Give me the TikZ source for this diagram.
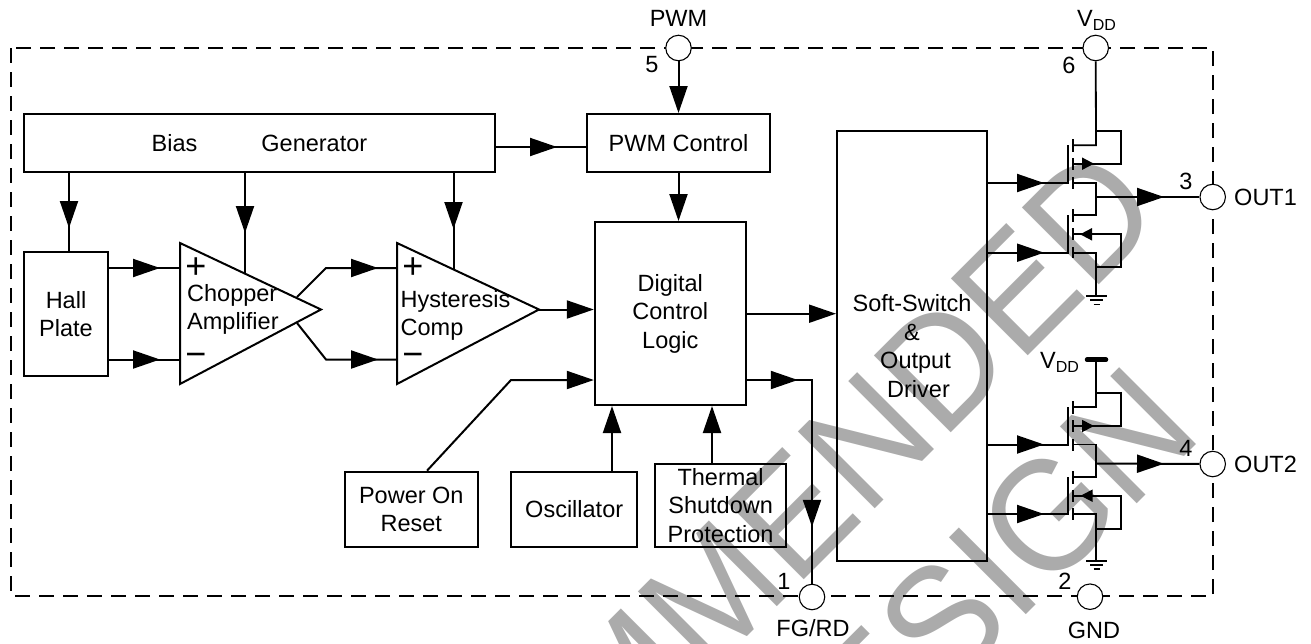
\documentclass[tikz,border=0pt]{standalone}
\usepackage{fontspec}
\setmainfont{Liberation Sans}
\usetikzlibrary{arrows.meta,decorations.markings}
\tikzset{
  tri/.tip={Triangle[length=27pt,width=18pt]},
  smalltri/.tip={Triangle[length=12pt,width=12pt]},
  txt/.style={font=\fontsize{23.5}{28.5}\selectfont,inner sep=0pt,align=center,text=black},
  box/.style={txt,draw=black,line width=2pt},
  wire/.style={draw=black,line width=2pt},
  mosw/.style={draw=black,line width=1.8pt},
  mid/.style={postaction={decoration={markings,mark=at position #1pt with {\arrow{tri}}},decorate}},
  smid/.style={postaction={decoration={markings,mark=at position #1pt with {\arrow{smalltri}}},decorate}},
  pinc/.style={circle,draw=black,fill=white,line width=1.1pt,minimum size=25.5pt,inner sep=0pt},
  sign/.style={font=\fontsize{36}{36}\selectfont,inner sep=0pt},
  wm/.style={font=\fontsize{158}{158}\selectfont,text=wmgray,inner sep=0pt,rotate=45,xscale=.95}
}
\definecolor{wmgray}{HTML}{ABABAB}
\begin{document}
\begin{tikzpicture}[x=1pt,y=-1pt]
\useasboundingbox (0,0) rectangle (1311,643);
\clip (0,0) rectangle (1311,643);
% watermark
\node[wm,anchor=base east] (wma) at (1167,217) {RECOMMENDED};
\node[wm,anchor=base east] (wmb) at (1205,436) {DESIGN};
% package outline
\draw[black,line width=2pt,dash pattern=on 15pt off 9pt] (11,48) rectangle (1213,596);
% blocks
\node[box,minimum width=471pt,minimum height=58pt] (bias) at (259.5,143) {Bias\hspace{64pt}Generator};
\node[box,minimum width=183pt,minimum height=58pt] (pwmc) at (678.5,143) {PWM Control};
\node[box,minimum width=84pt,minimum height=124pt] (hall) at (66,314) {Hall\\Plate};
\node[box,minimum width=151pt,minimum height=183pt] (dig) at (670.3,313.5) {Digital\\Control\\Logic};
\node[box,minimum width=150pt,minimum height=429.5pt] (soft) at (912,346) {Soft-Switch\\\&\\\hspace*{7pt}Output\\\hspace*{13pt}Driver};
\node[box,minimum width=133.5pt,minimum height=75pt] (por) at (411.3,509.2) {Power On\\Reset};
\node[box,minimum width=125.6pt,minimum height=75pt] (osc) at (574.2,509.2) {Oscillator};
\node[box,minimum width=130.7pt,minimum height=83pt] (therm) at (720.6,505.2) {Thermal\\Shutdown\\Protection};
% amplifiers
\coordinate (a1t) at (180,243);\coordinate (a1b) at (180,384);\coordinate (a1o) at (321,309.5);
\coordinate (a2t) at (397,243);\coordinate (a2b) at (397,384);\coordinate (a2o) at (539,309.5);
\draw[wire,line join=miter] (a1t) -- (a1o) -- (a1b) -- cycle;
\draw[wire,line join=miter] (a2t) -- (a2o) -- (a2b) -- cycle;
\node[txt,anchor=west] (amptext1) at (187,295) {Chopper};
\node[txt,anchor=west] (amptext2) at (187,323) {Amplifier};
\node[txt,anchor=west] (hystext1) at (400.5,301) {Hysteresis};
\node[txt,anchor=west] (hystext2) at (400.5,330) {Comp};
\node[sign] (ap) at (196,268) {+};
\node[sign] (am) at (196,359.5) {−};
\node[sign] (hp) at (413,268) {+};
\node[sign] (hm) at (413,359.5) {−};
% pins
\node[pinc] (p5) at (678.5,48) {};
\node[pinc] (p6) at (1095.7,48) {};
\node[pinc] (p3) at (1212.7,197) {};
\node[pinc] (p4) at (1212.7,464) {};
\node[pinc] (p1) at (812,597) {};
\node[pinc] (p2) at (1090,596.7) {};
% wires: top
\draw[wire,-{tri}] (p5) -- (pwmc.north -| p5);
\draw[wire,mid=61] (bias.east |- 0,147) -- (pwmc.west |- 0,147);
\draw[wire,-{tri}] (pwmc.south) -- (dig.north -| pwmc.south);
\coordinate (e1) at (245,273);\coordinate (e2) at (453.5,269);
\draw[wire,mid=55] (bias.south -| 69,0) -- (hall.north -| 69,0);
\draw[wire,mid=60] (bias.south -| e1) -- (e1);
\draw[wire,mid=56] (bias.south -| e2) -- (e2);
% wires: signal path
\draw[wire,mid=51] (hall.east |- 0,268) -- (a1t |- 0,268);
\draw[wire,mid=51] (hall.east |- 0,359.5) -- (a1t |- 0,359.5);
\coordinate (o1a) at (297,297);\coordinate (o1b) at (326,268);
\coordinate (o2a) at (297,323);\coordinate (o2b) at (326,359.5);
\draw[wire,mid=93] (o1a) -- (o1b) -- (a2t |- o1b);
\draw[wire,mid=98.6] (o2a) -- (o2b) -- (a2t |- o2b);
\draw[wire,-{tri}] (a2o) -- (dig.west |- a2o);
\coordinate (pk) at (511,380);
\draw[wire,-{tri}] (por.north -| 427,0) -- (pk) -- (dig.west |- pk);
\draw[wire,-{tri}] (osc.north -| 612,0) -- (dig.south -| 612,0);
\draw[wire,-{tri}] (therm.north -| 712,0) -- (dig.south -| 712,0);
\draw[wire,-{tri}] (dig.east |- 0,313.7) -- (soft.west |- 0,313.7);
\coordinate (fg) at (812,380);
\draw[wire,mid=51,mid=212] (dig.east |- fg) -- (fg) -- (p1);
% output stage 1
\coordinate (d1) at (1096,131);\coordinate (l1) at (1121,131);\coordinate (l1b) at (1121,163.7);
\coordinate (g1) at (1068,183);\coordinate (o1) at (1096,197);
\draw[mosw] (p6) -- (d1 |- 0,145.3) -- (1073,145.3);
\draw[mosw,line join=miter,smid=21] (1073,163.7) -- (l1b) -- (l1) -- (d1);
\draw[mosw] (1073,139) -- (1073,152) (1073,158) -- (1073,170) (1073,177) -- (1073,189);
\draw[mosw] (1068,145) -- (1068,184);
\draw[wire,mid=56] (soft.east |- g1) -- (g1);
\draw[mosw] (1073,183) -- (1096,183) -- (1096,215) -- (1073,215);
\draw[wire,mid=68] (o1) -- (p3);
\draw[mosw] (1073,209) -- (1073,222) (1073,228) -- (1073,240) (1073,247) -- (1073,258);
\draw[mosw] (1068,215) -- (1068,254);
\draw[wire,mid=56] (soft.east |- 0,252.7) -- (1068,252.7);
\draw[mosw,smid=99] (1096,267.3) -- (1121,267.3) -- (1121,234.3) -- (1073,234.3);
\draw[mosw] (1073,252.7) -- (1096,252.7) -- (1096,296);
\draw[mosw] (1086,296) -- (1107,296) (1090,300.3) -- (1103,300.3) (1093.5,304.5) -- (1100,304.5);
% output stage 2
\coordinate (vb) at (1096,359.7);
\draw[black,line width=4.5pt,line cap=round] (1087,359.7) -- (1106,359.7);
\draw[mosw] (vb) -- (1096,407.3) -- (1073,407.3);
\draw[mosw,line join=miter,smid=21] (1073,426) -- (1121,426) -- (1121,392.7) -- (1096,392.7);
\draw[mosw] (1073,401) -- (1073,414) (1073,420) -- (1073,432) (1073,439) -- (1073,451);
\draw[mosw] (1068,407) -- (1068,446);
\draw[wire,mid=56] (soft.east |- 0,444.5) -- (1068,444.5);
\draw[mosw] (1073,444.5) -- (1096,444.5) -- (1096,476.7) -- (1073,476.7);
\draw[wire,mid=68] (1096,463.5) -- (p4);
\draw[mosw] (1073,471) -- (1073,484) (1073,490) -- (1073,502) (1073,508) -- (1073,520);
\draw[mosw] (1068,477) -- (1068,515);
\draw[wire,mid=56] (soft.east |- 0,514) -- (1068,514);
\draw[mosw,smid=99] (1096,529.3) -- (1121,529.3) -- (1121,495.7) -- (1073,495.7);
\draw[mosw] (1073,514) -- (1096,514) -- (1096,560.7);
\draw[mosw] (1086,560.7) -- (1107,560.7) (1090,565) -- (1103,565) (1093.5,569.2) -- (1100,569.2);
% pin labels
\node[txt] (lpwm) at (678.5,18.5) {PWM};
\node[txt] (l5) at (652,65) {5};
\node[txt] (l6) at (1069,65) {6};
\node[txt] (l3) at (1186,181) {3};
\node[txt] (l4) at (1186,448) {4};
\node[txt] (l2) at (1065,581) {2};
\node[txt] (l1t) at (784,581) {1};
\node[txt,anchor=west] (lout1) at (1234,197) {OUT1};
\node[txt,anchor=west] (lout2) at (1234,464) {OUT2};
\node[txt] (lgnd) at (1094,630) {GND};
\node[txt] (lfg) at (813,628) {FG/RD};
\node[txt,anchor=base west] (lv1) at (1077,26) {V\raisebox{-4.5pt}{\fontsize{16}{18}\selectfont DD}};
\node[txt,anchor=base west] (lv2) at (1040,368) {V\raisebox{-4.5pt}{\fontsize{16}{18}\selectfont DD}};
\end{tikzpicture}
\end{document}
